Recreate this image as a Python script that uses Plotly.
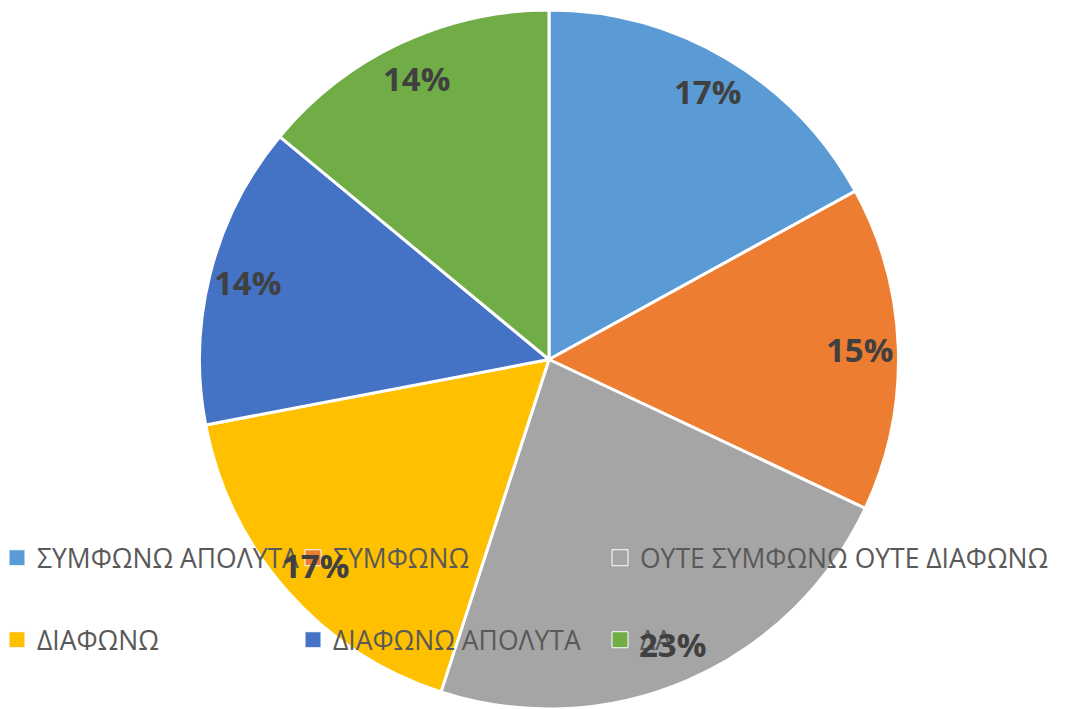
import math
import plotly.graph_objects as go

labels = ["ΣΥΜΦΩΝΩ ΑΠΟΛΥΤΑ", "ΣΥΜΦΩΝΩ", "ΟΥΤΕ ΣΥΜΦΩΝΩ ΟΥΤΕ ΔΙΑΦΩΝΩ",
          "ΔΙΑΦΩΝΩ", "ΔΙΑΦΩΝΩ ΑΠΟΛΥΤΑ", "ΔΑ"]
values = [17, 15, 23, 17, 14, 14]
colors = ["#5B9BD5", "#ED7D31", "#A5A5A5", "#FFC000", "#4472C4", "#70AD47"]

W, H = 1092, 709
# pie domain (paper)
dx0, dx1 = 0.1822, 0.8233
dy0, dy1 = 0.0, 0.9859

fig = go.Figure()
fig.add_trace(go.Pie(
    labels=labels, values=values, sort=False, direction="clockwise", rotation=0,
    marker=dict(colors=colors, line=dict(color="white", width=3)),
    textinfo="none", hoverinfo="label+percent", showlegend=False,
    domain=dict(x=[dx0, dx1], y=[dy0, dy1]),
))

# data labels positioned from the values
cx = (dx0 + dx1) / 2 * W
cy = (dy0 + dy1) / 2 * H
R = min((dx1 - dx0) * W, (dy1 - dy0) * H) / 2
total = sum(values)
cum = 0
for v in values:
    mid = (cum + v / 2) / total * 2 * math.pi
    cum += v
    r = 0.89 * R
    px = cx + r * math.sin(mid)
    py = cy + r * math.cos(mid)
    fig.add_annotation(x=px / W, y=py / H, xref="paper", yref="paper",
                       text=f"<b>{round(v / total * 100)}%</b>", showarrow=False,
                       font=dict(family="Open Sans", size=33, color="#404040"),
                       xanchor="center", yanchor="middle")

# legend entries: 2 rows x 3 columns, one legend box per entry
legend_names = ["legend", "legend2", "legend3", "legend4", "legend5", "legend6"]
col_x = [-3, 293, 600]
row_y = [558, 640]
layout_legends = {}
for i, (lab, col) in enumerate(zip(labels, colors)):
    lname = legend_names[i]
    fig.add_trace(go.Scatter(
        x=[None], y=[None], mode="markers", name=lab,
        marker=dict(symbol="square", size=16, color=col, line=dict(color="white", width=1)),
        legend=lname, hoverinfo="skip",
    ))
    layout_legends[lname] = dict(
        x=col_x[i % 3] / W, y=(H - row_y[i // 3]) / H,
        xanchor="left", yanchor="middle", orientation="h",
        bgcolor="rgba(0,0,0,0)",
        font=dict(family="Open Sans", size=26.5, color="#595959"),
        itemclick=False, itemdoubleclick=False,
    )

fig.update_layout(
    width=W, height=H,
    margin=dict(l=0, r=0, t=0, b=0, autoexpand=False),
    paper_bgcolor="white", plot_bgcolor="white",
    xaxis=dict(visible=False), yaxis=dict(visible=False),
    **layout_legends,
)

fig.write_html("out.html", config={"displayModeBar": False},
               post_script="document.body.style.margin='0';")
